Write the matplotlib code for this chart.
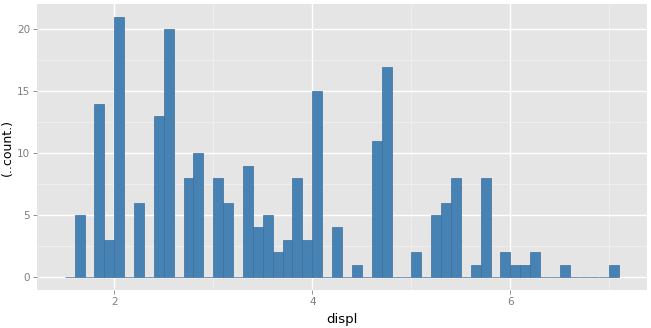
import numpy as np
import matplotlib.pyplot as plt
from matplotlib.ticker import MultipleLocator

# displacement values and counts (binwidth 0.1, bins start at value)
displ = [1.6, 1.8, 1.9, 2.0, 2.2, 2.4, 2.5, 2.7, 2.8, 3.0, 3.1, 3.3, 3.4, 3.5, 3.6,
         3.7, 3.8, 3.9, 4.0, 4.2, 4.4, 4.6, 4.7, 5.0, 5.2, 5.3, 5.4, 5.6, 5.7, 5.9,
         6.0, 6.1, 6.2, 6.5, 7.0]
counts = [5, 14, 3, 21, 6, 13, 20, 8, 10, 8, 6, 9, 4, 5, 2,
          3, 8, 3, 15, 4, 1, 11, 17, 2, 5, 6, 8, 1, 8, 2,
          1, 1, 2, 1, 1]

binwidth = 0.1
edges = np.round(np.arange(1.5, 7.1 + 1e-9, binwidth), 1)
lefts = edges[:-1]
bin_counts = np.zeros(len(lefts))
for v, c in zip(displ, counts):
    idx = int(np.argmin(np.abs(lefts - v)))
    bin_counts[idx] += c

fig = plt.figure(figsize=(6.51, 3.28), dpi=100)
ax = fig.add_axes([37/651, 38/328, 610/651, 286/328])
ax.set_facecolor('#E5E5E5')

ax.bar(lefts, bin_counts, width=binwidth, align='edge', color='steelblue',
       edgecolor='#3F6E99', linewidth=0.5, zorder=3)

xlo, xhi = 1.5, 7.1
xr = xhi - xlo
ax.set_xlim(xlo - 0.05*xr, xhi + 0.05*xr)
ymax = max(bin_counts)
ax.set_ylim(-0.05*ymax, ymax*1.05)

ax.xaxis.set_major_locator(MultipleLocator(2))
ax.xaxis.set_minor_locator(MultipleLocator(1))
ax.yaxis.set_major_locator(MultipleLocator(5))
ax.yaxis.set_minor_locator(MultipleLocator(2.5))
ax.grid(which='major', color='white', linewidth=1.0, zorder=0)
ax.grid(which='minor', color='#F2F2F2', linewidth=0.5, zorder=0)
ax.set_axisbelow(True)

for s in ax.spines.values():
    s.set_visible(False)
ax.tick_params(which='major', length=3, width=0.6, color='#7F7F7F',
               labelcolor='#7F7F7F', labelsize=7.5, pad=2)
ax.tick_params(which='minor', length=0)

ax.set_xlabel('displ', fontsize=9.5, labelpad=4)
ax.set_ylabel('(..count.)', fontsize=9)
ax.yaxis.set_label_coords(-0.038, 0.5)

fig.savefig('out.png', dpi=100)
